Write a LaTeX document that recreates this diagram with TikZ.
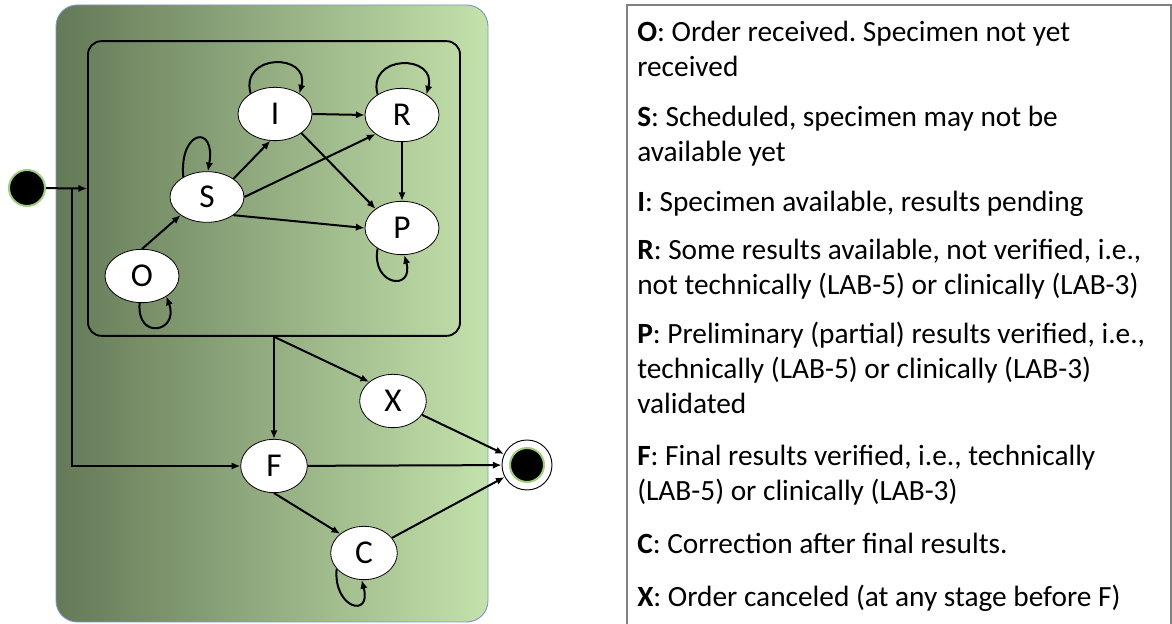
\documentclass[tikz,border=0pt]{standalone}
\usepackage{fontspec}
\setmainfont{Carlito}
\frenchspacing
\usetikzlibrary{shapes.geometric,arrows.meta}
\definecolor{darkolive}{RGB}{100,121,87}
\definecolor{palegreen}{RGB}{196,226,172}
\definecolor{frameblue}{RGB}{125,152,190}
\definecolor{ringgreen}{RGB}{160,205,130}
\begin{document}
\begin{tikzpicture}[x=0.75pt,y=0.75pt,
    state/.style={ellipse,draw,fill=white,line width=0.6pt,minimum width=55.5pt,minimum height=40pt,inner sep=0pt,font=\fontsize{25}{30}\selectfont},
    trans/.style={-{Latex[length=6.5pt,width=5.5pt]},line width=1.5pt},
    legend/.style={align=left,inner sep=0pt,font=\fontsize{22}{26.25}\selectfont}]
  \useasboundingbox (0,0) rectangle (1172,624);
  % lab order box
  \shade[left color=darkolive,right color=palegreen,rounded corners=16pt] (56,2) rectangle (488,619);
  \draw[frameblue,line width=0.7pt,rounded corners=16pt] (56,2) rectangle (488,619);
  \node[draw,rounded corners=10pt,line width=1.4pt,minimum width=279pt,minimum height=221pt] (active) at (274,435.5) {};
  % states
  \node[circle,fill=black,draw=ringgreen,line width=1.5pt,minimum size=27pt,inner sep=0pt] (start) at (27,436) {};
  \node[state] (O) at (142,348) {O};
  \node[state,minimum height=38pt] (S) at (207,427) {S};
  \node[state] (I) at (275,510) {I};
  \node[state] (R) at (402,509) {R};
  \node[state] (P) at (402,396) {P};
  \node[state,minimum width=50pt] (X) at (393,223) {X};
  \node[state,minimum width=50pt] (F) at (274,158) {F};
  \node[state,minimum width=50pt] (C) at (364,71) {C};
  \node[circle,draw,fill=white,line width=0.7pt,minimum size=37.5pt,inner sep=0pt] (end) at (527,159) {};
  \node[circle,fill=black,draw=ringgreen,line width=1.5pt,minimum size=25.5pt,inner sep=0pt] (endDot) at (end) {};
  \coordinate (split) at (72,436);
  % transitions
  \draw[trans] (start) -- (active.west);
  \draw[trans] (split) |- (F.west);
  \draw[trans] (O.north) -- (S.south west);
  \draw[trans] (S.north east) -- (I.260);
  \draw[trans] (S.east) -- (R.south west);
  \draw[trans] (S.south east) -- (P.west);
  \draw[trans] (I.east) -- (R.west);
  \draw[trans] (I.south east) -- (P.north west);
  \draw[trans] (R.south) -- (P.north);
  \draw[trans] (S.140) .. controls +(95:48) and +(80:48) .. (S.88);
  \draw[trans] (I.140) .. controls +(105:42) and +(75:42) .. (I.40);
  \draw[trans] (R.140) .. controls +(105:42) and +(75:42) .. (R.40);
  \draw[trans] (P.220) .. controls +(260:38) and +(285:38) .. (P.275);
  \draw[trans] (O.265) .. controls +(265:38) and +(290:38) .. (O.320);
  \draw[trans] (active.south) -- (F.north);
  \draw[trans] (active.south) -- (X.north west);
  \draw[trans] (X) -- (end);
  \draw[trans] (F) -- (end);
  \draw[trans] (F.south) -- (C.north west);
  \draw[trans] (C) -- (end);
  \draw[trans] (C.210) .. controls +(265:40) and +(285:40) .. (C.265);
  % legend
  \draw[gray,line width=0.8pt] (627,-10) rectangle (1171,619);
  \node[legend,anchor=base west] (oText) at (637,547) {\textbf{O}: Order received. Specimen not yet\\received};
  \node[legend,anchor=base west] (sText) at (637,462) {\textbf{S}: Scheduled, specimen may not be\\available yet};
  \node[legend,anchor=base west] (iText) at (637,412) {\textbf{I}: Specimen available, results pending};
  \node[legend,anchor=base west] (rText) at (637,329) {\textbf{R}: Some results available, not verified, i.e.,\\not technically (LAB-5) or clinically (LAB-3)};
  \node[legend,anchor=base west] (pText) at (637,210) {\textbf{P}: Preliminary (partial) results verified, i.e.,\\technically (LAB-5) or clinically (LAB-3)\\validated};
  \node[legend,anchor=base west] (fText) at (637,123) {\textbf{F}: Final results verified, i.e., technically\\(LAB-5) or clinically (LAB-3)};
  \node[legend,anchor=base west] (cText) at (637,70) {\textbf{C}: Correction after final results.};
  \node[legend,anchor=base west] (xText) at (637,17) {\textbf{X}: Order canceled (at any stage before F)};
\end{tikzpicture}
\end{document}
